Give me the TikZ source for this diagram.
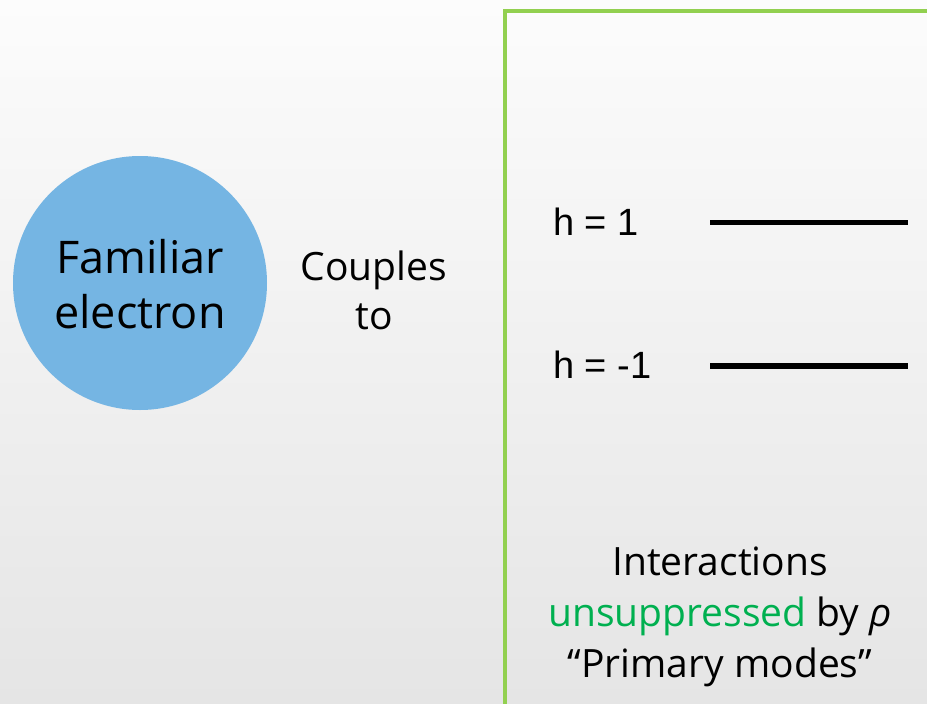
\documentclass[tikz,border=0pt]{standalone}
\usepackage{fontspec}
\setmainfont{Open Sans}
\newfontfamily\arialfont{Liberation Sans}
\definecolor{bgtop}{RGB}{252,252,252}
\definecolor{bgbottom}{RGB}{229,229,229}
\definecolor{electronblue}{RGB}{117,181,227}
\definecolor{boxgreen}{RGB}{146,208,80}
\definecolor{textgreen}{RGB}{0,176,80}
\tikzset{
  lbl/.style={inner sep=0pt, align=center, text=black},
  level/.style={line width=5.5pt, black},
  hlabel/.style={inner sep=0pt, anchor=base west, font=\arialfont\fontsize{38}{40}\selectfont},
}
\begin{document}
\begin{tikzpicture}[x=1pt,y=-1pt]
  % page and background
  \useasboundingbox (0,0) rectangle (927,704);
  \shade[top color=bgtop, bottom color=bgbottom] (0,0) rectangle (927,704);

  % the electron
  \node[circle, fill=electronblue, minimum size=254pt, inner sep=0pt] (electron) at (140,283) {};
  \node[lbl, font=\fontsize{45}{55}\selectfont] (electronlabel) at (140,284) {Familiar\\electron};

  \node[lbl, font=\fontsize{39}{49}\selectfont] (couples) at (374,290) {Couples\\to};

  % the box of modes
  \draw[boxgreen, line width=4pt] (505,760) -- (505,11) -- (960,11);

  \node[hlabel] (hplus) at (553,235) {h = 1};
  \node[hlabel] (hminus) at (553,378) {h = -1};
  \coordinate (p1a) at (710,222.5);
  \coordinate (p1b) at (908,222.5);
  \coordinate (m1a) at (710,366);
  \coordinate (m1b) at (908,366);
  \draw[level] (p1a) -- (p1b);
  \draw[level] (m1a) -- (m1b);

  \node[lbl, font=\fontsize{39}{51}\selectfont] (interactions) at (720,617)
    {Interactions\\\textcolor{textgreen}{unsuppressed} by \textit{ρ}\\“Primary modes”};
\end{tikzpicture}
\end{document}
